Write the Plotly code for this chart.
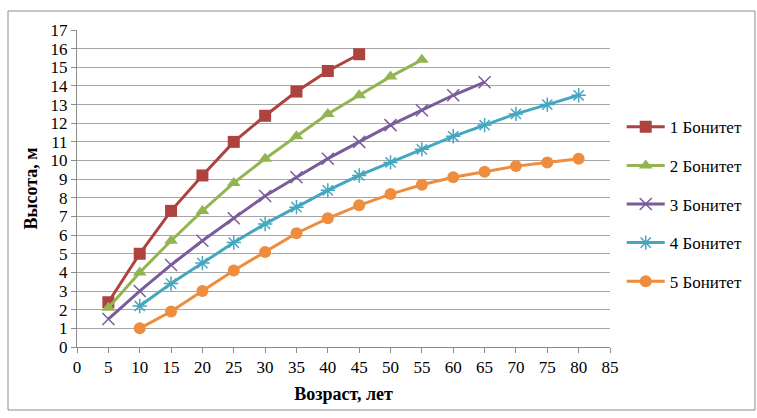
import plotly.graph_objects as go

names = ["1 Бонитет", "2 Бонитет", "3 Бонитет", "4 Бонитет", "5 Бонитет"]
ages1 = [5, 10, 15, 20, 25, 30, 35, 40, 45]
h1 = [2.4, 5.0, 7.3, 9.2, 11.0, 12.4, 13.7, 14.8, 15.7]
ages2 = [5, 10, 15, 20, 25, 30, 35, 40, 45, 50, 55]
h2 = [2.1, 4.0, 5.7, 7.3, 8.8, 10.1, 11.3, 12.5, 13.5, 14.5, 15.4]
ages3 = [5, 10, 15, 20, 25, 30, 35, 40, 45, 50, 55, 60, 65]
h3 = [1.5, 3.0, 4.4, 5.7, 6.9, 8.1, 9.1, 10.1, 11.0, 11.9, 12.7, 13.5, 14.2]
ages4 = [10, 15, 20, 25, 30, 35, 40, 45, 50, 55, 60, 65, 70, 75, 80]
h4 = [2.2, 3.4, 4.5, 5.6, 6.6, 7.5, 8.4, 9.2, 9.9, 10.6, 11.3, 11.9, 12.5, 13.0, 13.5]
ages5 = [10, 15, 20, 25, 30, 35, 40, 45, 50, 55, 60, 65, 70, 75, 80]
h5 = [1.0, 1.9, 3.0, 4.1, 5.1, 6.1, 6.9, 7.6, 8.2, 8.7, 9.1, 9.4, 9.7, 9.9, 10.1]

colors = ["#AE423F", "#92B552", "#7A5C9C", "#45A6C0", "#EE8D3E"]
symbols = ["square", "triangle-up", "x-thin-open", "asterisk-open", "circle"]
sizes = [12, 12, 12, 12, 12]
xs = [ages1, ages2, ages3, ages4, ages5]
ys = [h1, h2, h3, h4, h5]

FAM = "Liberation Serif"
FS = 17

fig = go.Figure()
for i in range(5):
    mk = dict(symbol=symbols[i], size=sizes[i], color=colors[i])
    if "open" in symbols[i]:
        mk["line"] = dict(color=colors[i], width=1.5)
    fig.add_trace(go.Scatter(
        x=xs[i], y=ys[i], name=names[i], mode="lines+markers",
        line=dict(color=colors[i], width=3), marker=mk,
        legendgroup="g%d" % i,
    ))

fig.update_layout(
    width=757, height=418,
    margin=dict(l=77, r=147, t=30, b=71, autoexpand=False),
    paper_bgcolor="white", plot_bgcolor="white",
    font=dict(family=FAM, size=FS, color="black"),
    showlegend=True,
    legend=dict(x=1.022, y=0.75, xanchor="left", yanchor="top",
                font=dict(family=FAM, size=FS, color="black"), tracegroupgap=13.5,
                itemwidth=38,
                bgcolor="rgba(0,0,0,0)"),
    xaxis=dict(range=[0, 85], tickmode="linear", tick0=0, dtick=5,
               tickfont=dict(family=FAM, size=FS, color="black"),
               showgrid=False, showline=True, linecolor="#8C8C8C", linewidth=1,
               ticks="outside", ticklen=5, tickcolor="#8C8C8C", zeroline=False,
               title=dict(text="<b>Возраст, лет</b>", font=dict(family=FAM, size=18, color="black"), standoff=10)),
    yaxis=dict(range=[0, 17], tickmode="linear", tick0=0, dtick=1,
               tickfont=dict(family=FAM, size=FS, color="black"),
               showgrid=True, gridcolor="#A6A6A6", gridwidth=1,
               showline=True, linecolor="#8C8C8C", linewidth=1,
               ticks="outside", ticklen=5, tickcolor="#8C8C8C", zeroline=False,
               title=dict(text="<b>Высота, м</b>", font=dict(family=FAM, size=18, color="black"), standoff=8)),
)
fig.add_shape(type="rect", xref="paper", yref="paper",
              x0=(8 - 77) / 533, x1=(755 - 77) / 533,
              y0=(347 - 410) / 317, y1=(347 - 11) / 317,
              line=dict(color="#8C8C8C", width=1), layer="below")
fig.write_html("out.html")
